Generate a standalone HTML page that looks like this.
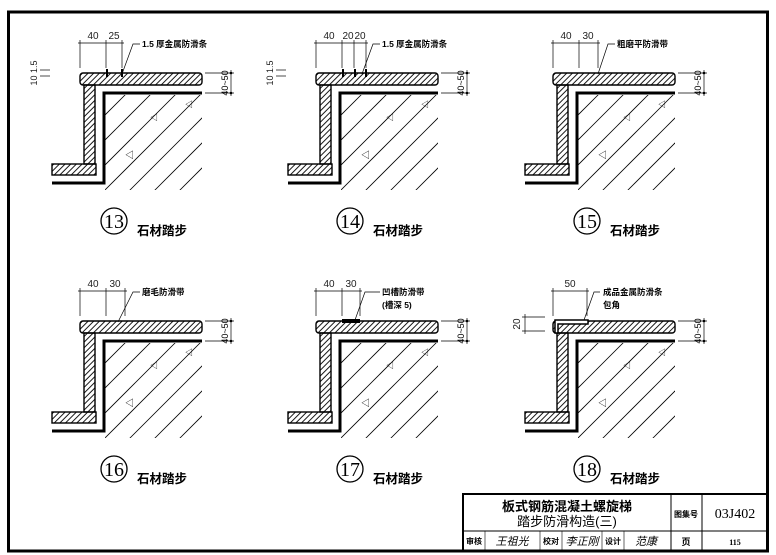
<!DOCTYPE html>
<html><head><meta charset="utf-8"><style>
html,body{margin:0;padding:0;background:#fff;}
svg{display:block;font-family:"Liberation Sans","Noto Sans CJK SC",sans-serif;}
</style></head><body>
<svg width="776" height="555" viewBox="0 0 776 555" xmlns="http://www.w3.org/2000/svg">
<defs>
<pattern id="h" width="4" height="4" patternUnits="userSpaceOnUse" patternTransform="rotate(45)">
<rect x="1.6" y="0" width="0.9" height="4" fill="#000"/></pattern>
<clipPath id="cc"><rect x="105" y="95" width="97" height="95"/></clipPath>
<g id="d">
<g clip-path="url(#cc)" stroke="#000" stroke-width="0.8">
<line x1="95" y1="150" x2="160" y2="85"/><line x1="95" y1="175" x2="180" y2="90"/>
<line x1="100" y1="195" x2="205" y2="90"/><line x1="125" y1="195" x2="215" y2="105"/>
<line x1="150" y1="195" x2="215" y2="130"/><line x1="175" y1="195" x2="215" y2="155"/>
<line x1="95" y1="125" x2="135" y2="85"/>
</g>
<text x="125" y="158" font-size="9">◁</text><text x="150" y="120" font-size="8">◁</text><text x="185" y="107" font-size="8">◁</text>
<rect x="80" y="73" width="122" height="12" rx="3" fill="url(#h)" stroke="#000" stroke-width="1.4"/>
<rect x="84" y="85" width="11" height="79" fill="url(#h)" stroke="#000" stroke-width="1.4"/>
<rect x="52" y="164" width="44" height="11" fill="url(#h)" stroke="#000" stroke-width="1.4"/>
<polyline points="202,93 104,93 104,183 52,183" fill="none" stroke="#000" stroke-width="3"/>
<g stroke="#000" stroke-width="0.7" fill="none">
<line x1="205" y1="73" x2="234" y2="73"/><line x1="205" y1="93" x2="234" y2="93"/>
<line x1="231" y1="70" x2="231" y2="96"/>
</g>
<circle cx="231" cy="73" r="1.3"/><circle cx="231" cy="93" r="1.3"/>
<text transform="translate(228,83) rotate(-90)" font-size="9" text-anchor="middle">40~50</text>
<circle cx="114" cy="221" r="13" fill="none" stroke="#000" stroke-width="1.3"/>
<text x="137" y="235" font-size="12.5" font-weight="bold">石材踏步</text>
</g>
</defs>
<rect x="8.5" y="12" width="759" height="539" fill="none" stroke="#000" stroke-width="3"/>

<use href="#d"/><use href="#d" x="236"/><use href="#d" x="473"/>
<use href="#d" y="248"/><use href="#d" x="236" y="248"/><use href="#d" x="473" y="248"/>

<g font-family="Liberation Serif,serif" font-size="20" text-anchor="middle">
<text x="114" y="228">13</text><text x="350" y="228">14</text><text x="587" y="228">15</text>
<text x="114" y="476">16</text><text x="350" y="476">17</text><text x="587" y="476">18</text>
</g>

<g stroke="#000" stroke-width="0.7" fill="none">
<line x1="80" y1="40" x2="80" y2="68"/><line x1="106" y1="40" x2="106" y2="68"/><line x1="122" y1="40" x2="122" y2="68"/>
<line x1="78" y1="43" x2="124" y2="43"/><polyline points="122,74 133,44 140,44"/>
<line x1="40" y1="70" x2="50" y2="70"/><line x1="40" y1="76" x2="50" y2="76"/>
<line x1="316" y1="40" x2="316" y2="68"/><line x1="342" y1="40" x2="342" y2="68"/><line x1="354" y1="40" x2="354" y2="68"/><line x1="366" y1="40" x2="366" y2="68"/>
<line x1="314" y1="43" x2="368" y2="43"/><polyline points="362,74 373,44 380,44"/>
<line x1="276" y1="70" x2="286" y2="70"/><line x1="276" y1="76" x2="286" y2="76"/>
<line x1="553" y1="40" x2="553" y2="68"/><line x1="579" y1="40" x2="579" y2="68"/><line x1="598" y1="40" x2="598" y2="68"/>
<line x1="551" y1="43" x2="600" y2="43"/><polyline points="598,74 608,44 615,44"/>
<line x1="80" y1="288" x2="80" y2="316"/><line x1="106" y1="288" x2="106" y2="316"/><line x1="125" y1="288" x2="125" y2="316"/>
<line x1="78" y1="291" x2="127" y2="291"/><polyline points="118,322 133,292 140,292"/>
<line x1="316" y1="288" x2="316" y2="316"/><line x1="342" y1="288" x2="342" y2="316"/><line x1="360" y1="288" x2="360" y2="316"/>
<line x1="314" y1="291" x2="362" y2="291"/><polyline points="355,320 365,292 380,292"/>
<line x1="553" y1="288" x2="553" y2="316"/><line x1="587" y1="288" x2="587" y2="316"/>
<line x1="551" y1="291" x2="589" y2="291"/><polyline points="584,320 594,292 600,292"/>
<line x1="522" y1="317" x2="545" y2="317"/><line x1="522" y1="331" x2="545" y2="331"/><line x1="525" y1="314" x2="525" y2="334"/>
</g>
<g>
<rect x="106" y="69" width="2" height="8"/><rect x="121" y="69" width="2" height="8"/>
<rect x="342" y="69" width="2" height="8"/><rect x="354" y="69" width="2" height="8"/><rect x="365" y="69" width="2" height="8"/>
<rect x="342" y="319" width="18" height="4"/>
<path d="M555,320 h33 v4 h-30 v9 h-3 z" fill="#fff" stroke="#000" stroke-width="1.5"/>
</g>
<g font-size="10" text-anchor="middle" fill="#222">
<text x="93" y="39">40</text><text x="114" y="39">25</text>
<text x="329" y="39">40</text><text x="348" y="39">20</text><text x="360" y="39">20</text>
<text x="566" y="39">40</text><text x="588" y="39">30</text>
<text x="93" y="287">40</text><text x="115" y="287">30</text>
<text x="329" y="287">40</text><text x="351" y="287">30</text>
<text x="570" y="287">50</text>
<text transform="translate(37,73) rotate(-90)" font-size="9">10 1.5</text>
<text transform="translate(273,73) rotate(-90)" font-size="9">10 1.5</text>
<text transform="translate(520,324) rotate(-90)" font-size="10">20</text>
</g>
<g font-size="8.5" font-weight="bold">
<text x="142" y="47">1.5 厚金属防滑条</text>
<text x="382" y="47">1.5 厚金属防滑条</text>
<text x="617" y="47">粗磨平防滑带</text>
<text x="142" y="295">磨毛防滑带</text>
<text x="382" y="295">凹槽防滑带</text><text x="382" y="308">(槽深 5)</text>
<text x="603" y="295">成品金属防滑条</text><text x="603" y="308">包角</text>
</g>

<g stroke="#000" fill="none">
<polyline points="463,551 463,494 767,494" stroke-width="2"/>
<line x1="463" y1="531" x2="767" y2="531" stroke-width="1"/>
<line x1="671" y1="494" x2="671" y2="551" stroke-width="1"/>
<line x1="702" y1="494" x2="702" y2="551" stroke-width="1"/>
<line x1="485" y1="531" x2="485" y2="551" stroke-width="0.6"/>
<line x1="540" y1="531" x2="540" y2="551" stroke-width="0.6"/>
<line x1="562" y1="531" x2="562" y2="551" stroke-width="0.6"/>
<line x1="602" y1="531" x2="602" y2="551" stroke-width="0.6"/>
<line x1="624" y1="531" x2="624" y2="551" stroke-width="0.6"/>
</g>
<g text-anchor="middle">
<text x="567" y="511" font-size="13" font-weight="bold">板式钢筋混凝土螺旋梯</text>
<text x="567" y="526" font-size="13">踏步防滑构造(三)</text>
<text x="686" y="517" font-size="8" font-weight="bold">图集号</text>
<text x="735" y="518" font-size="14" font-family="Liberation Serif,serif">03J402</text>
<text x="686" y="545" font-size="9" font-weight="bold">页</text>
<text x="735" y="545" font-size="8" font-family="Liberation Serif,serif" font-weight="bold">115</text>
<text x="474" y="544" font-size="8" font-weight="bold">审核</text>
<text x="512" y="545" font-size="11" font-style="italic">王祖光</text>
<text x="551" y="544" font-size="8" font-weight="bold">校对</text>
<text x="582" y="545" font-size="11" font-style="italic">李正刚</text>
<text x="613" y="544" font-size="8" font-weight="bold">设计</text>
<text x="646" y="545" font-size="11" font-style="italic">范康</text>
</g>
</svg>
</body></html>
